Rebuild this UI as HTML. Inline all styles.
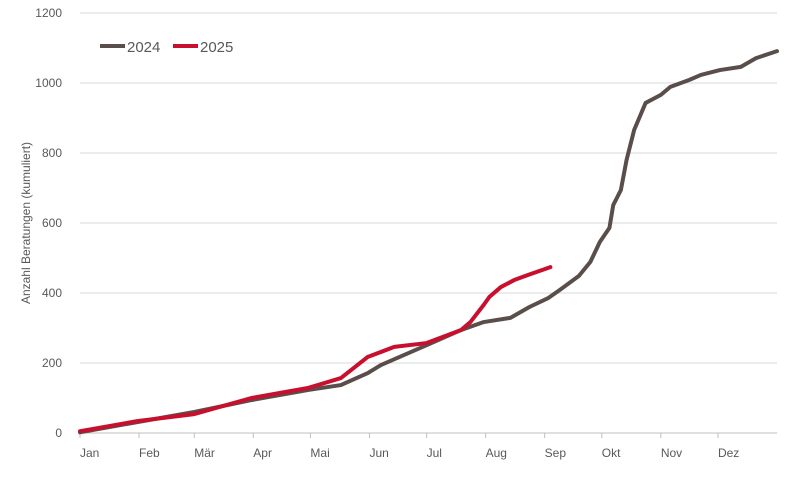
<!DOCTYPE html>
<html><head><meta charset="utf-8"><style>
body{margin:0;background:#fff;font-family:"Liberation Sans",sans-serif}
svg text{font-family:"Liberation Sans",sans-serif;fill:#595959}
</style></head><body>
<svg id="c" width="788" height="482"></svg>
<script>
const yTicks=[0,200,400,600,800,1000,1200];
const months=["Jan","Feb","Mär","Apr","Mai","Jun","Jul","Aug","Sep","Okt","Nov","Dez"];
const monthStartDays=[0,31,60,91,121,152,182,213,244,274,305,335];
const days2024=[0,30,60,90,120,137,151,158,182,200,212,226,236,246,252,262,268,273,278,280,284,287,291,297,305,310,320,326,336,347,355,366];
const vals2024=[2,31,60,94,123,137,171,194,251,294,317,329,360,386,409,449,489,546,586,651,694,780,866,943,966,989,1009,1023,1037,1046,1071,1091];
const days2025=[0,30,60,90,120,137,151,165,182,200,205,212,215,221,228,235,247];
const vals2025=[5,34,54,100,129,157,217,246,257,294,317,366,389,417,437,451,474];
const X0=80,X1=777,Y0=433,Y1=13;
const x=d=>X0+d*(X1-X0)/366;
const y=v=>Y0-v*(Y0-Y1)/1200;
const svg=document.getElementById('c');
const NS="http://www.w3.org/2000/svg";
function mk(t,a){const e=document.createElementNS(NS,t);for(const k in a)e.setAttribute(k,a[k]);svg.appendChild(e);return e;}
yTicks.forEach(v=>{
 const g=mk('line',{x1:X0,x2:X1,y1:y(v),y2:y(v),stroke:v===0?'#bfbfbf':'#d9d9d9','stroke-width':1});
 
 
 const t=mk('text',{x:62,y:y(v)+4,'text-anchor':'end','font-size':12});
 t.textContent=v;
 
 
});
monthStartDays.forEach((d,i)=>{
 const tk=mk('line',{x1:x(d),x2:x(d),y1:Y0,y2:Y0+5,stroke:'#bfbfbf'});
 
 
 const t=mk('text',{x:x(d),y:457,'font-size':12});
 t.textContent=months[i];
 
 
});
const yt=mk('text',{x:0,y:0,'font-size':12,'text-anchor':'middle',transform:'translate(30,223) rotate(-90)'});
yt.textContent='Anzahl Beratungen (kumuliert)';


function line(ds,vs,col,name){
 const p=mk('polyline',{points:ds.map((d,i)=>x(d)+','+y(vs[i])).join(' '),fill:'none',stroke:col,'stroke-width':4,'stroke-linejoin':'round','stroke-linecap':'round'});
 
 
}
line(days2024,vals2024,'#5a4e4b','series-2024');
line(days2025,vals2025,'#c8102e','series-2025');
[['2024','#5a4e4b',100],['2025','#c8102e',173]].forEach(([n,c,lx])=>{
 const l=mk('line',{x1:lx,x2:lx+25,y1:46,y2:46,stroke:c,'stroke-width':4});
 
 
 const t=mk('text',{x:lx+27,y:52,'font-size':15});
 t.textContent=n;
 
 
});
</script>
</body></html>
